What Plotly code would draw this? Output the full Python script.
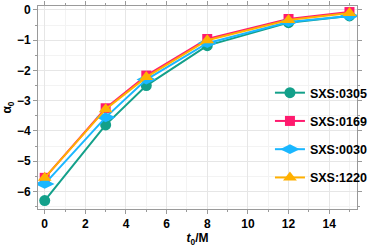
import plotly.graph_objects as go

t0 = [0, 3, 5, 8, 12, 15]
names = ["SXS:0305", "SXS:0169", "SXS:0030", "SXS:1220"]
a_0305 = [-6.3, -3.8, -2.5, -1.18, -0.42, -0.2]
a_0169 = [-5.55, -3.25, -2.17, -0.96, -0.3, -0.07]
a_0030 = [-5.75, -3.55, -2.3, -1.1, -0.4, -0.2]
a_1220 = [-5.55, -3.28, -2.22, -1.0, -0.33, -0.1]

colors = ["#13a08a", "#ff1a6e", "#1ab7ff", "#ffb000"]
symbols = ["circle", "square", "diamond-wide", "triangle-up"]
sizes = [11, 10, 14, 12]
series = [a_0305, a_0169, a_0030, a_1220]

fig = go.Figure()
for i, (n, y) in enumerate(zip(names, series)):
    fig.add_trace(go.Scatter(
        x=t0, y=y, mode="lines+markers", name=n, legendgroup=n,
        line=dict(color=colors[i], width=2),
        marker=dict(symbol=symbols[i], size=sizes[i], color=colors[i]),
    ))

font_main = dict(family="Liberation Sans, Arial", size=12, color="black", weight="bold")
font_leg = dict(family="Liberation Sans, Arial", size=12.5, color="black", weight="bold")

axis_common = dict(
    showline=True, linecolor="#9a9a9a", linewidth=1, mirror="ticks",
    ticks="outside", ticklen=4, tickcolor="#9a9a9a",
    showgrid=True, gridcolor="#e6e6e6", gridwidth=1, zeroline=False,
    tickfont=font_main,
    minor=dict(ticks="outside", ticklen=2, tickcolor="#9a9a9a", showgrid=True, gridcolor="#f3f3f3"),
)

fig.update_layout(
    width=374, height=249,
    margin=dict(l=38, r=1, t=3, b=40),
    paper_bgcolor="white", plot_bgcolor="white",
    showlegend=True,
    legend=dict(x=1.05, y=0.645, xanchor="right", yanchor="top",
                font=font_leg,
                bgcolor="rgba(255,255,255,0)", tracegroupgap=9, itemwidth=30),
    xaxis=dict(range=[-0.33, 15.37], tickvals=[0, 2, 4, 6, 8, 10, 12, 14],
               title=dict(text="<i>t</i><sub>0</sub>/M", standoff=3, font=font_main),
               **axis_common),
    yaxis=dict(range=[-6.58, 0.13], tickvals=[0, -1, -2, -3, -4, -5, -6],
               ticktext=["0", "\u22121", "\u22122", "\u22123", "\u22124", "\u22125", "\u22126"],
               title=dict(text="\u03b1<sub>0</sub>", standoff=2, font=font_main),
               **axis_common),
)

fig.write_html("out.html", config={"displayModeBar": False},
               post_script="document.body.style.margin='0';")
